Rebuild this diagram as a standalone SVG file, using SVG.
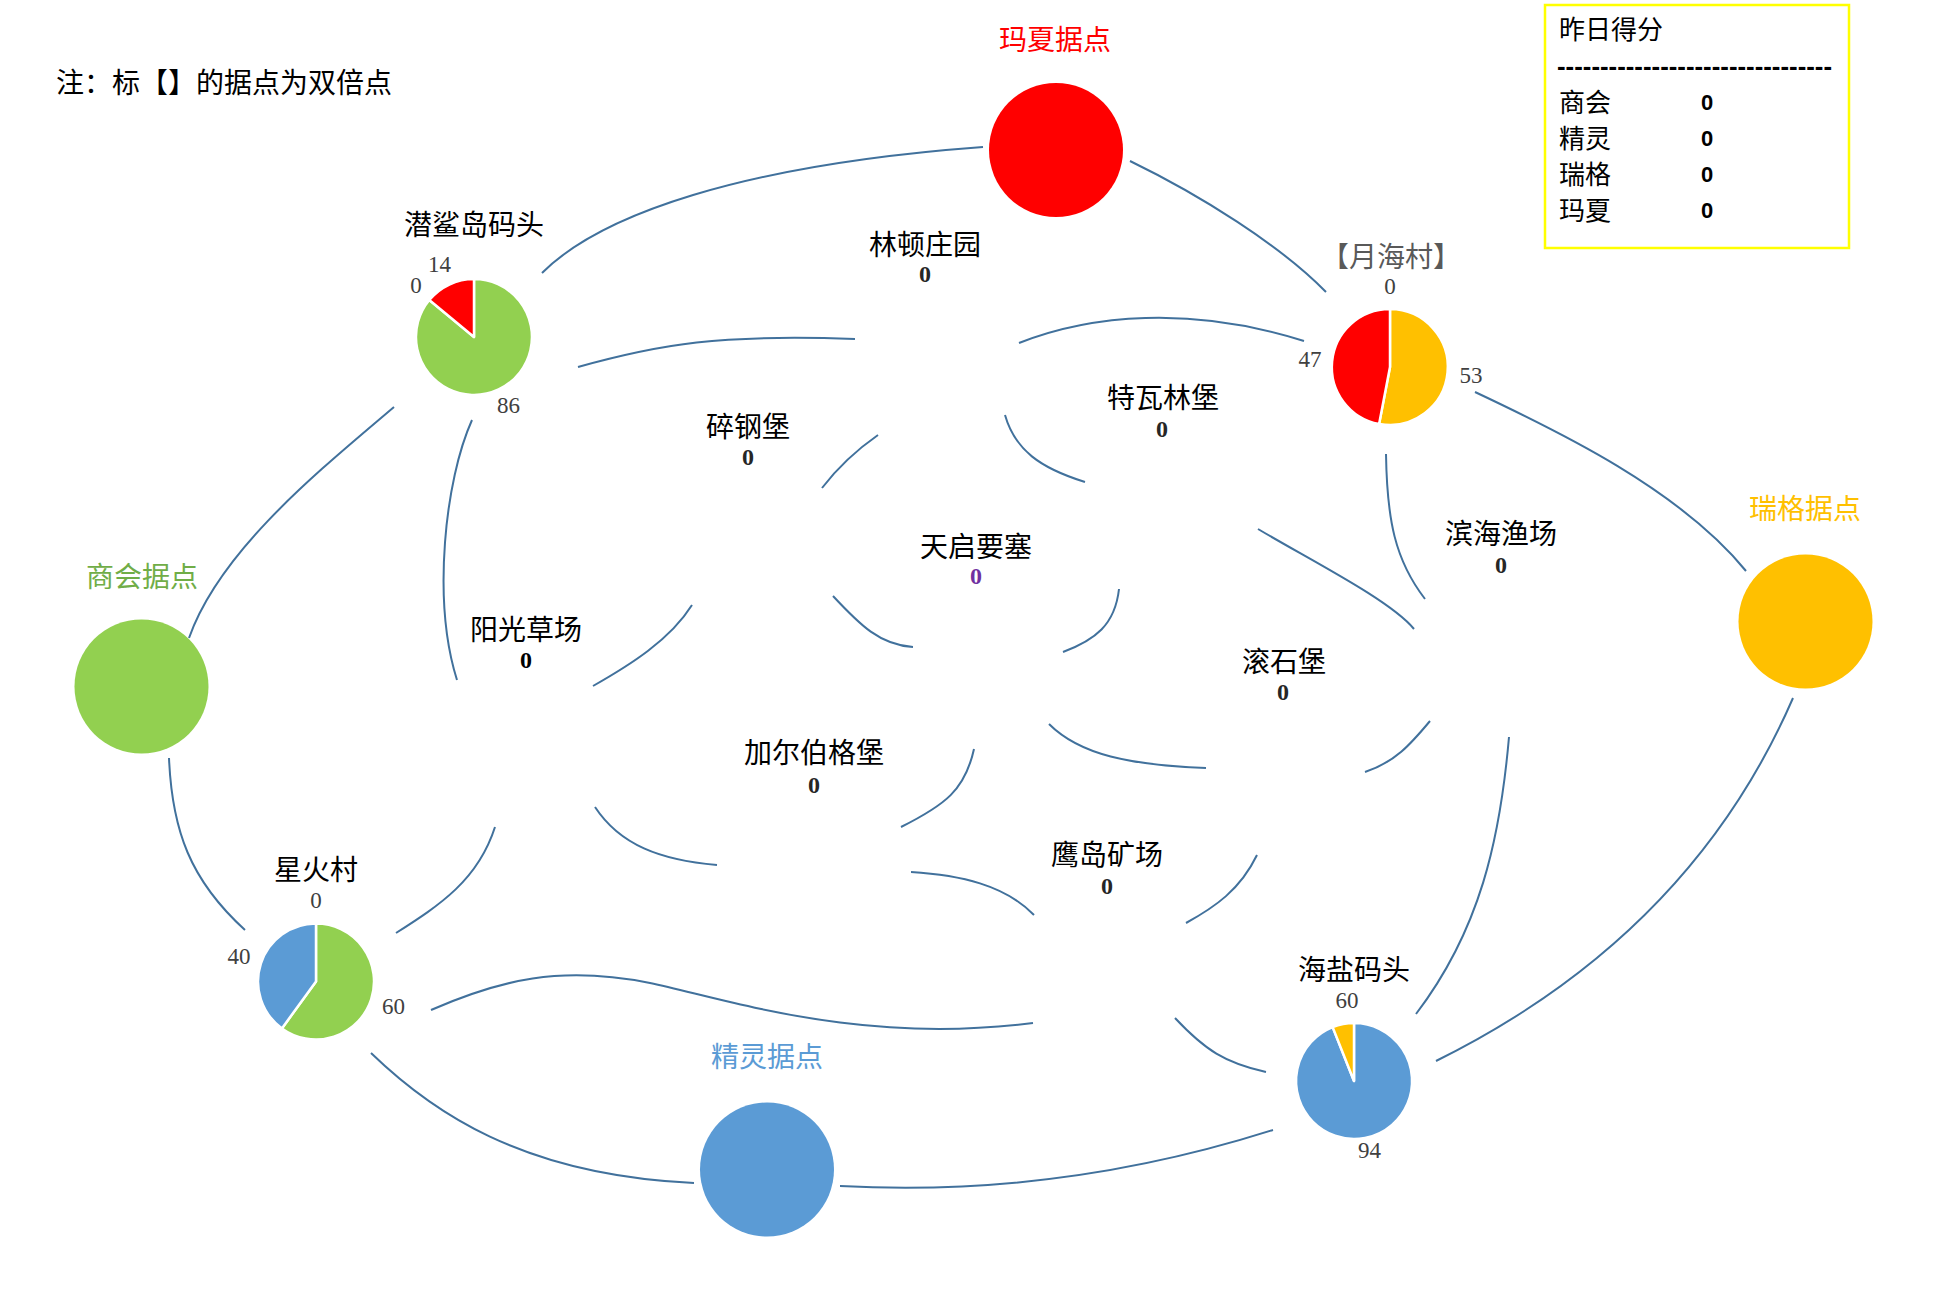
<svg xmlns="http://www.w3.org/2000/svg" width="1937" height="1294" viewBox="0 0 1937 1294">
<style>
.lbl{font-family:"Noto Sans CJK SC","Noto Sans CJK JP",sans-serif;font-size:28px;fill:#000;text-anchor:middle}
.note{font-family:"Noto Sans CJK SC","Noto Sans CJK JP",sans-serif;font-size:28px;fill:#000}
.val{font-family:"Liberation Serif",serif;font-size:24px;font-weight:bold;fill:#262626;text-anchor:middle}
.pl{font-family:"Liberation Serif",serif;font-size:23px;fill:#404040;text-anchor:middle}
.leg{font-family:"Noto Sans CJK SC","Noto Sans CJK JP",sans-serif;font-size:26px;fill:#000}
.legv{font-family:"Liberation Sans",Arial,sans-serif;font-size:22px;font-weight:bold;fill:#000}
.edge{fill:none;stroke:#41719C;stroke-width:2}
.sl{stroke:#fff;stroke-width:2.5;stroke-linejoin:round}
</style>
<rect width="1937" height="1294" fill="#fff"/>
<text class="note" x="56" y="93" textLength="336" lengthAdjust="spacingAndGlyphs">注：标【】的据点为双倍点</text>
<g id="legend">
<rect x="1545" y="5" width="304" height="243" fill="none" stroke="#FFFF00" stroke-width="2.5"/>
<text class="leg" x="1559" y="39">昨日得分</text>
<text class="legv" x="1557" y="75" style="font-size:26px" textLength="275" lengthAdjust="spacingAndGlyphs">--------------------------------</text>
<text class="leg" x="1559" y="112">商会</text><text class="legv" x="1701" y="110">0</text>
<text class="leg" x="1559" y="148">精灵</text><text class="legv" x="1701" y="146">0</text>
<text class="leg" x="1559" y="184">瑞格</text><text class="legv" x="1701" y="182">0</text>
<text class="leg" x="1559" y="220">玛夏</text><text class="legv" x="1701" y="218">0</text>
</g>
<g id="connectors">
<path class="edge" d="M542,273 C600,215 740,165 983,147"/>
<path class="edge" d="M1130,161 C1200,195 1280,245 1326,292"/>
<path class="edge" d="M578,367 C660,344 720,334 855,339"/>
<path class="edge" d="M1019,343 C1090,315 1190,305 1304,341"/>
<path class="edge" d="M1475,392 C1560,432 1680,490 1746,571"/>
<path class="edge" d="M394,407 C320,470 220,550 189,638"/>
<path class="edge" d="M472,420 C445,480 432,600 457,680"/>
<path class="edge" d="M878,435 Q845,458 822,488"/>
<path class="edge" d="M1005,415 C1015,450 1040,468 1085,482"/>
<path class="edge" d="M1258,529 C1310,560 1390,600 1414,629"/>
<path class="edge" d="M1386,454 C1387,520 1395,560 1425,599"/>
<path class="edge" d="M1793,698 C1740,820 1640,960 1436,1061"/>
<path class="edge" d="M169,758 C172,830 190,880 245,930"/>
<path class="edge" d="M593,686 C630,665 670,640 692,605"/>
<path class="edge" d="M833,596 C860,625 880,645 913,647"/>
<path class="edge" d="M1119,589 C1115,625 1095,640 1063,652"/>
<path class="edge" d="M1049,724 C1080,755 1130,765 1206,768"/>
<path class="edge" d="M1430,721 C1410,745 1395,762 1365,772"/>
<path class="edge" d="M1509,737 C1500,840 1480,930 1416,1014"/>
<path class="edge" d="M495,827 C478,880 440,905 396,933"/>
<path class="edge" d="M595,807 C620,845 660,860 717,865"/>
<path class="edge" d="M974,749 C965,790 945,805 901,827"/>
<path class="edge" d="M911,872 C960,875 1005,885 1034,915"/>
<path class="edge" d="M1257,855 C1240,890 1215,907 1186,923"/>
<path class="edge" d="M431,1010 C500,980 560,965 650,983 C730,1000 860,1045 1033,1023"/>
<path class="edge" d="M1175,1018 C1205,1050 1225,1063 1266,1072"/>
<path class="edge" d="M371,1053 C430,1110 520,1175 694,1183"/>
<path class="edge" d="M840,1186 C950,1192 1100,1185 1273,1130"/>
</g>
<g id="maxia">
<circle cx="1056" cy="150" r="67" fill="#FF0000"/>
<text class="lbl" x="1055" y="50" style="fill:#FF0000">玛夏据点</text>
</g>
<g id="shanghui">
<circle cx="141.5" cy="686.5" r="67" fill="#92D050"/>
<text class="lbl" x="142" y="587" style="fill:#70AD47">商会据点</text>
</g>
<g id="ruige">
<circle cx="1805.5" cy="621.5" r="67" fill="#FFC000"/>
<text class="lbl" x="1805" y="519" style="fill:#FFC000">瑞格据点</text>
</g>
<g id="jingling">
<circle cx="767" cy="1169.5" r="67" fill="#5B9BD5"/>
<text class="lbl" x="767" y="1067" style="fill:#5B9BD5">精灵据点</text>
</g>
<g id="qianshadao">
<text class="lbl" x="474" y="235">潜鲨岛码头</text>
<path class="sl" d="M474,337 L429.3,300 A58,58 0 1 0 474,279 Z" fill="#92D050"/>
<path class="sl" d="M474,337 L474,279 A58,58 0 0 0 429.3,300 Z" fill="#FF0000"/>
<text class="pl" x="439.5" y="272">14</text>
<text class="pl" x="416" y="293">0</text>
<text class="pl" x="508.5" y="413">86</text>
</g>
<g id="yuehaicun">
<text class="lbl" x="1391" y="267" style="fill:#595959">【月海村】</text>
<path class="sl" d="M1390,367 L1390,309 A58,58 0 1 1 1379.1,424 Z" fill="#FFC000"/>
<path class="sl" d="M1390,367 L1379.1,424 A58,58 0 0 1 1390,309 Z" fill="#FF0000"/>
<text class="pl" x="1390" y="294">0</text>
<text class="pl" x="1310" y="367">47</text>
<text class="pl" x="1471" y="383">53</text>
</g>
<g id="xinghuocun">
<text class="lbl" x="316" y="880">星火村</text>
<path class="sl" d="M316,981.5 L316,923.5 A58,58 0 1 1 281.9,1028.4 Z" fill="#92D050"/>
<path class="sl" d="M316,981.5 L281.9,1028.4 A58,58 0 0 1 316,923.5 Z" fill="#5B9BD5"/>
<text class="pl" x="316" y="908">0</text>
<text class="pl" x="239" y="964">40</text>
<text class="pl" x="393.5" y="1014">60</text>
</g>
<g id="haiyanmatou">
<text class="lbl" x="1354" y="980">海盐码头</text>
<path class="sl" d="M1354,1081 L1332.65,1027.1 A58,58 0 1 0 1354,1023 Z" fill="#5B9BD5"/>
<path class="sl" d="M1354,1081 L1354,1023 A58,58 0 0 0 1332.65,1027.1 Z" fill="#FFC000"/>
<text class="pl" x="1347" y="1008">60</text>
<text class="pl" x="1369.5" y="1158">94</text>
</g>
<g id="lindun"><text class="lbl" x="925" y="255">林顿庄园</text><text class="val" x="925" y="282">0</text></g>
<g id="tewalin"><text class="lbl" x="1163" y="408">特瓦林堡</text><text class="val" x="1162" y="437">0</text></g>
<g id="suigang"><text class="lbl" x="748" y="437">碎钢堡</text><text class="val" x="748" y="465">0</text></g>
<g id="tianqi"><text class="lbl" x="976" y="557">天启要塞</text><text class="val" x="976" y="584" style="fill:#7030A0">0</text></g>
<g id="binhai"><text class="lbl" x="1501" y="544">滨海渔场</text><text class="val" x="1501" y="573">0</text></g>
<g id="yangguang"><text class="lbl" x="526" y="640">阳光草场</text><text class="val" x="526" y="668" style="fill:#000">0</text></g>
<g id="gunshi"><text class="lbl" x="1284" y="672">滚石堡</text><text class="val" x="1283" y="700">0</text></g>
<g id="jiaerboge"><text class="lbl" x="814" y="763">加尔伯格堡</text><text class="val" x="814" y="793">0</text></g>
<g id="yingdao"><text class="lbl" x="1107" y="865">鹰岛矿场</text><text class="val" x="1107" y="894">0</text></g>
</svg>
